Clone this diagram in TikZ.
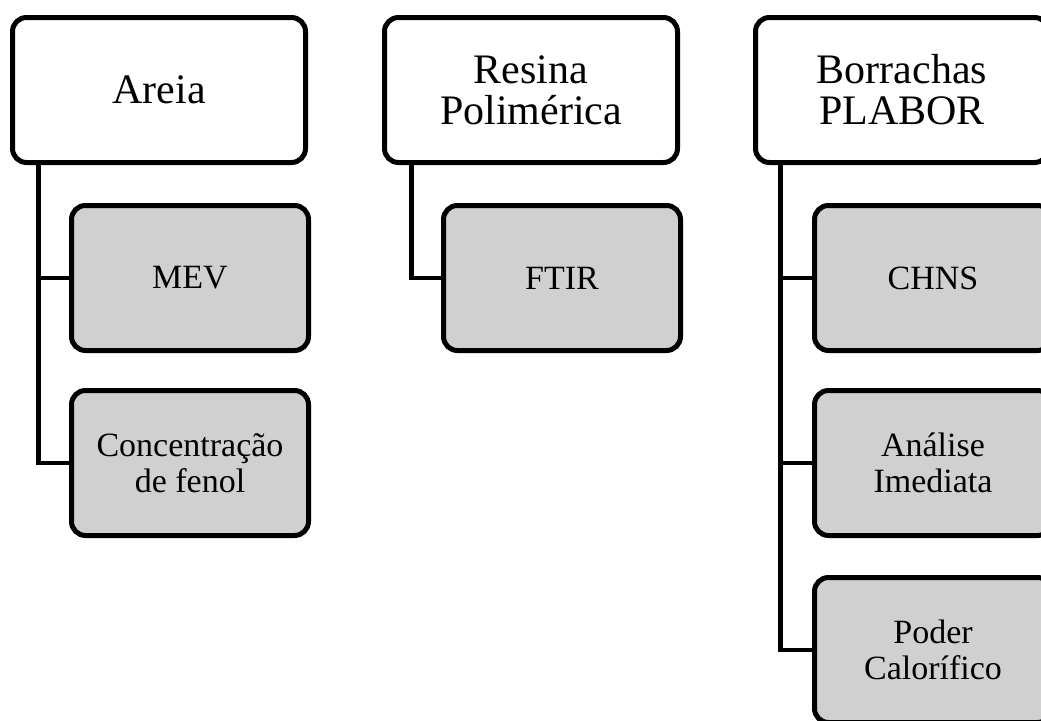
\documentclass[tikz,border=0pt]{standalone}
\usepackage{fontspec}
\setmainfont{Liberation Serif}
\definecolor{LGray}{HTML}{D0D0D0}

\tikzset{
	topbox/.style={draw, line width=5pt, rounded corners=14pt, fill=white, minimum width=293pt, minimum height=145pt, inner sep=0pt, align=center, font=\fontsize{42}{41}\selectfont},
	subbox/.style={draw, line width=5pt, rounded corners=14pt, fill=LGray, minimum width=237pt, minimum height=145pt, inner sep=0pt, align=center, font=\fontsize{34}{36}\selectfont},
	link/.style={line width=4.5pt}
}

\begin{document}
\begin{tikzpicture}[x=1pt, y=-1pt]
			\useasboundingbox[fill=white] (0,0) rectangle (1041,720);
			
			\node[topbox] (areia) at (159,90) {Areia};
			\node[subbox] (mev) at (190,278) {MEV};
			\node[subbox] (fenol) at (190,463) {Concentração\\de fenol};
			
			\node[topbox] (resina) at (531,90) {Resina\\Polimérica};
			\node[subbox] (ftir) at (562,278) {FTIR};
			
			\node[topbox] (borr) at (902,90) {Borrachas\\PLABOR};
			\node[subbox] (chns) at (933,278) {CHNS};
			\node[subbox] (imed) at (933,463) {Análise\\Imediata};
			\node[subbox] (poder) at (933,650) {Poder\\Calorífico};
			
			\coordinate (a0) at ([xshift=28.5pt]areia.south west);
			\coordinate (r0) at ([xshift=29.5pt]resina.south west);
			\coordinate (b0) at ([xshift=27.5pt]borr.south west);
			
			\draw[link] (a0) |- (mev.west);
			\draw[link] (a0) |- (fenol.west);
			
			\draw[link] (r0) |- (ftir.west);
			
			\draw[link] (b0) |- (chns.west);
			\draw[link] (b0) |- (imed.west);
			\draw[link] (b0) |- (poder.west);
			
		\end{tikzpicture}
\end{document}
